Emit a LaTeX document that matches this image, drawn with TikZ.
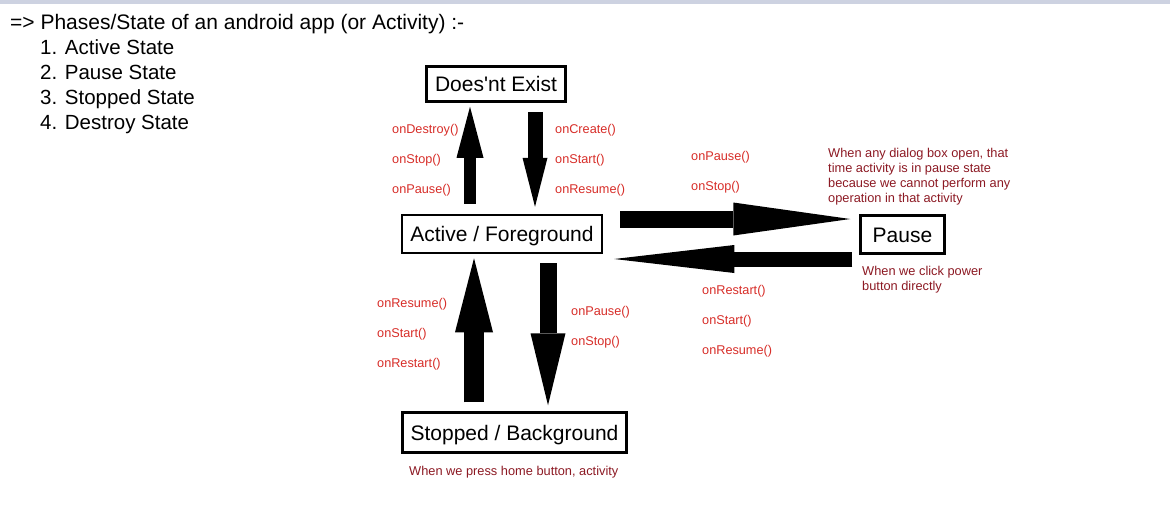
\documentclass[tikz,border=0pt]{standalone}
\usepackage{fontspec}
\setmainfont{Liberation Sans}
\usetikzlibrary{arrows.meta}
\definecolor{callred}{RGB}{215,45,40}
\definecolor{notered}{RGB}{140,25,35}
\definecolor{topbar}{RGB}{205,210,225}
\tikzset{
  state/.style={draw,line width=2.5pt,inner sep=0pt,text height=15pt,text depth=0pt,font=\fontsize{21}{25}\selectfont},
  call/.style={anchor=base west,inner sep=0pt,text=callred,font=\fontsize{12.7}{15}\selectfont},
  note/.style={anchor=north west,align=left,inner sep=0pt,text=notered,font=\fontsize{12.8}{15}\selectfont},
  blk/.style n args={3}{line width=#1,-{Triangle[width=#2,length=#3,line width=0pt]}},
  listitem/.style={anchor=base west,inner sep=0pt,font=\fontsize{20.5}{25}\selectfont}
}
\begin{document}
\begin{tikzpicture}[x=1pt,y=-1pt]
\useasboundingbox (0,0) rectangle (1170,512);
\fill[topbar] (0,0) rectangle (1170,4);

\node[listitem,font=\fontsize{21}{25}\selectfont] (title) at (10,29.5) {=> Phases/State of an android app (or Activity) :-};
\node[listitem] (item1) at (40,54.3) {1. Active State};
\node[listitem] (item2) at (40,79.3) {2. Pause State};
\node[listitem] (item3) at (40,104.3) {3. Stopped State};
\node[listitem] (item4) at (40,129.3) {4. Destroy State};

% states
\node[state,minimum width=139pt,minimum height=35pt] (dne) at (496,84) {Does\textquotesingle nt Exist};
\node[state,minimum width=200pt,minimum height=38pt] (act) at (502,234) {Active / Foreground};
\node[state,minimum width=84pt,minimum height=38pt] (pause) at (902.5,234.5) {Pause};
\node[state,minimum width=224pt,minimum height=40pt] (stop) at (514.5,432.5) {Stopped / Background};

% block arrows
\draw[blk={12pt}{27pt}{51pt},shorten <=10pt,shorten >=4pt] ([xshift=-32pt]act.north) -- ([xshift=-32pt]act.north |- dne.south);
\draw[blk={15pt}{25pt}{49pt},shorten <=9pt,shorten >=7pt] ([xshift=33pt]act.north |- dne.south) -- ([xshift=33pt]act.north);
\draw[blk={17pt}{33pt}{117pt},shorten <=17pt,shorten >=9pt] ([yshift=15pt]act.east) -- ([yshift=15pt]act.east -| pause.west);
\draw[blk={15pt}{28pt}{120pt},shorten <=7pt,shorten >=11pt] ([yshift=-25pt]act.east -| pause.west) -- ([yshift=-25pt]act.east);
\draw[blk={20pt}{38pt}{74pt},shorten <=9pt,shorten >=4pt] ([xshift=-28pt]act.south |- stop.north) -- ([xshift=-28pt]act.south);
\draw[blk={17pt}{35pt}{72pt},shorten <=9pt,shorten >=6pt] ([xshift=46pt]act.south) -- ([xshift=46pt]act.south |- stop.north);

% callbacks
\node[call] (d1) at (392,133.5) {onDestroy()};
\node[call] (d2) at (392,163.5) {onStop()};
\node[call] (d3) at (392,193.5) {onPause()};
\node[call] (c1) at (555,133.5) {onCreate()};
\node[call] (c2) at (555,163.5) {onStart()};
\node[call] (c3) at (555,193.5) {onResume()};
\node[call] (p1) at (691,160.5) {onPause()};
\node[call] (p2) at (691,190.5) {onStop()};
\node[call] (r1) at (702,294.5) {onRestart()};
\node[call] (r2) at (702,324.5) {onStart()};
\node[call] (r3) at (702,354.5) {onResume()};
\node[call] (b1) at (377,307.5) {onResume()};
\node[call] (b2) at (377,337.5) {onStart()};
\node[call] (b3) at (377,367.5) {onRestart()};
\node[call] (s1) at (571,315.5) {onPause()};
\node[call] (s2) at (571,345.5) {onStop()};

% notes
\node[note] (dialog) at (828,148) {When any dialog box open, that\\time activity is in pause state\\because we cannot perform any\\operation in that activity};
\node[note] (power) at (862,266) {When we click power\\button directly};
\node[note,anchor=base west] (home) at (409,475.5) {When we press home button, activity};
\end{tikzpicture}
\end{document}
